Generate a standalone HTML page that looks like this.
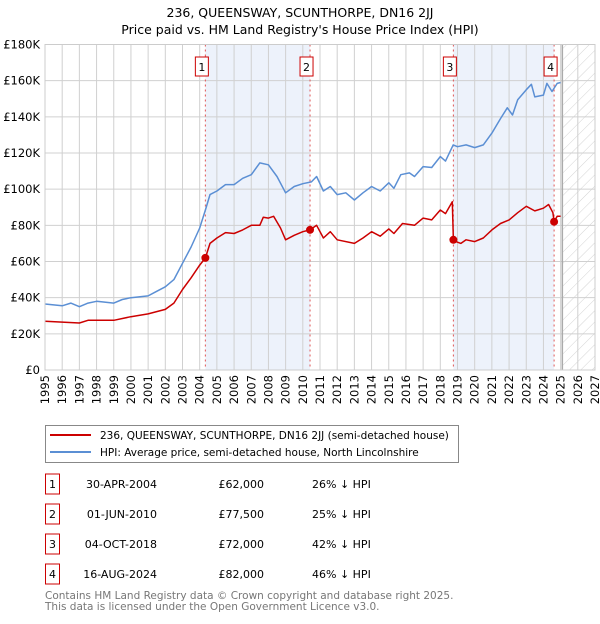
<!DOCTYPE html>
<html><head><meta charset="utf-8"><style>
body{margin:0;background:#fff;font-family:"DejaVu Sans","Liberation Sans",sans-serif;}
svg text{font-family:"DejaVu Sans","Liberation Sans",sans-serif;}
</style></head><body>
<svg id="chart" width="600" height="620" xmlns="http://www.w3.org/2000/svg">
<defs><pattern id="hatch" width="8" height="8" patternUnits="userSpaceOnUse" patternTransform="rotate(45)"><line x1="0" y1="0" x2="0" y2="8" stroke="#d4d4d4" stroke-width="1"/></pattern></defs>
<text x="300" y="17" text-anchor="middle" font-size="12.5">236, QUEENSWAY, SCUNTHORPE, DN16 2JJ</text>
<text x="300" y="34" text-anchor="middle" font-size="12.5">Price paid vs. HM Land Registry's House Price Index (HPI)</text>
<g id="plot"></g>
<g>
<rect x="45.5" y="425.5" width="413" height="37" fill="#fff" stroke="#888"/>
<line x1="50" y1="435" x2="91" y2="435" stroke="#cc0000" stroke-width="2"/>
<text x="100" y="439" font-size="10.5">236, QUEENSWAY, SCUNTHORPE, DN16 2JJ (semi-detached house)</text>
<line x1="50" y1="452" x2="91" y2="452" stroke="#5b8fd4" stroke-width="2"/>
<text x="100" y="456" font-size="10.5">HPI: Average price, semi-detached house, North Lincolnshire</text>
</g>
<g id="table" font-size="11"></g>
<text x="45" y="599" font-size="10.5" fill="#777">Contains HM Land Registry data © Crown copyright and database right 2025.</text>
<text x="45" y="610" font-size="10.5" fill="#777">This data is licensed under the Open Government Licence v3.0.</text>
</svg>
<script>
const hpiYears=[1995,1996,1996.5,1997,1997.5,1998,1999,1999.5,2000,2001,2001.5,2002,2002.5,2003,2003.5,2004,2004.33,2004.6,2005,2005.5,2006,2006.5,2007,2007.5,2008,2008.5,2009,2009.5,2010,2010.5,2010.8,2011.2,2011.6,2012,2012.5,2013,2013.5,2014,2014.5,2015,2015.3,2015.7,2016.2,2016.5,2017,2017.5,2018,2018.3,2018.75,2019,2019.5,2020,2020.5,2021,2021.5,2021.9,2022.2,2022.5,2023,2023.3,2023.5,2024,2024.2,2024.5,2024.8,2025];
const hpiValues=[36.5,35.5,37,35,37,38,37,39,40,41,43.5,46,50,59,68,78.5,88.5,97,99,102.5,102.5,106,108,114.5,113.5,107,98,101.5,103,104,107,99,101.5,97,98,94,98,101.5,99,103.5,100.5,108,109,107,112.5,112,118,115.5,124.5,123.5,124.5,123,124.5,131,139,145,141,149.5,155,158,151,152,158.5,154,158.5,159];
const ppYears=[1995,1997,1997.5,1999,2000,2001,2002,2002.5,2003,2003.5,2004,2004.33,2004.6,2005,2005.5,2006,2006.5,2007,2007.5,2007.7,2008,2008.3,2008.7,2009,2009.5,2010,2010.42,2010.8,2011.2,2011.6,2012,2013,2013.5,2014,2014.5,2015,2015.3,2015.8,2016.5,2017,2017.5,2018,2018.3,2018.7,2018.76,2019.2,2019.5,2020,2020.5,2021,2021.5,2022,2022.5,2023,2023.5,2024,2024.3,2024.55,2024.62,2024.8,2025];
const ppValues=[27,26,27.5,27.5,29.5,31,33.5,37,44.5,51,58,62,70,73,76,75.5,77.5,80,80,84.5,84,85,78.5,72,74.5,76.5,77.5,80,73,76.5,72,70,73,76.5,74,78,75.5,81,80,84,83,88.5,86.5,93,71.5,70,72,71,73,77.5,81,83,87,90.5,88,89.5,91.5,87,82,85,85];
const saleLabels=["1","2","3","4"];
const saleYears=[2004.33,2010.42,2018.76,2024.62];
const salePrices=[62,77.5,72,82];
const saleDates=["30-APR-2004","01-JUN-2010","04-OCT-2018","16-AUG-2024"];
const salePriceText=["£62,000","£77,500","£72,000","£82,000"];
const saleHpiText=["26% ↓ HPI","25% ↓ HPI","42% ↓ HPI","46% ↓ HPI"];
const yTicks=[0,20,40,60,80,100,120,140,160,180];
const yTickLabels=["£0","£20K","£40K","£60K","£80K","£100K","£120K","£140K","£160K","£180K"];
const xTicks=[1995,1996,1997,1998,1999,2000,2001,2002,2003,2004,2005,2006,2007,2008,2009,2010,2011,2012,2013,2014,2015,2016,2017,2018,2019,2020,2021,2022,2023,2024,2025,2026,2027];
const X0=45,X1=595,Y0=370,Y1=44.5;
const xs=y=>X0+(y-1995)/(2027-1995)*(X1-X0);
const ys=v=>Y0-v/180*(Y0-Y1);
const NS="http://www.w3.org/2000/svg";
const plot=document.getElementById('plot');
function mk(tag,attrs,parent){const e=document.createElementNS(NS,tag);for(const k in attrs)e.setAttribute(k,attrs[k]);(parent||plot).appendChild(e);return e;}
for(const [a,b] of [[0,1],[2,3]]){
const r=mk('rect',{x:xs(saleYears[a]),y:Y1,width:xs(saleYears[b])-xs(saleYears[a]),height:Y0-Y1,fill:'#edf2fb'});


}
const hx=xs(2025.1);
const hr=mk('rect',{x:hx,y:Y1,width:X1-hx,height:Y0-Y1,fill:'url(#hatch)'});


xTicks.forEach(t=>{const l=mk('line',{x1:xs(t),x2:xs(t),y1:Y1,y2:Y0,stroke:'#d0d0d0','stroke-width':1});


const tx=mk('text',{x:0,y:0,'font-size':11.5,'text-anchor':'end',transform:`translate(${xs(t)+4},${Y0+5}) rotate(-90)`});tx.textContent=t;

});
yTicks.forEach((t,i)=>{const l=mk('line',{x1:X0,x2:X1,y1:ys(t),y2:ys(t),stroke:'#d0d0d0','stroke-width':1});


const tx=mk('text',{x:40,y:ys(t)+4,'font-size':11.5,'text-anchor':'end'});tx.textContent=yTickLabels[i];

});
const hl=mk('line',{x1:hx,x2:hx,y1:Y1,y2:Y0,stroke:'#aaa','stroke-width':1.5});


saleYears.forEach((y,i)=>{const x=xs(y);
const l=mk('line',{x1:x,x2:x,y1:Y1,y2:Y0,stroke:'#e05555','stroke-width':1,'stroke-dasharray':'2,3'});


const b=mk('rect',{x:x-10,y:57,width:13,height:19,fill:'#fff',stroke:'#cc0000'});


const t=mk('text',{x:x-3.5,y:71,'font-size':11,'text-anchor':'middle'});t.textContent=saleLabels[i];

});
function path(xv,yv,color,name){const d=xv.map((x,i)=>(i?'L':'M')+xs(x).toFixed(1)+','+ys(yv[i]).toFixed(1)).join('');
const p=mk('path',{d,fill:'none',stroke:color,'stroke-width':1.5,'stroke-linejoin':'round'});

}
path(hpiYears,hpiValues,'#5b8fd4','hpi-line');
path(ppYears,ppValues,'#cc0000','price-paid-line');
saleYears.forEach((y,i)=>{const c=mk('circle',{cx:xs(y),cy:ys(salePrices[i]),r:4,fill:'#cc0000'});

});
const ax=mk('rect',{x:X0,y:Y1,width:X1-X0,height:Y0-Y1,fill:'none',stroke:'#ccc'});


const tb=document.getElementById('table');
saleLabels.forEach((s,i)=>{const y=474+i*30;
const b=mk('rect',{x:45.5,y:y,width:14,height:20,fill:'#fff',stroke:'#cc0000'},tb);


const vals=[[s,52.5,'middle'],[saleDates[i],157,'end'],[salePriceText[i],264,'end'],[saleHpiText[i],312,'start']];
const names=['table-sale-number','table-sale-date','table-sale-price','table-sale-hpi'];
vals.forEach((v,j)=>{const t=mk('text',{x:v[1],y:y+14,'text-anchor':v[2]},tb);t.textContent=v[0];

});});
</script>
</body></html>
